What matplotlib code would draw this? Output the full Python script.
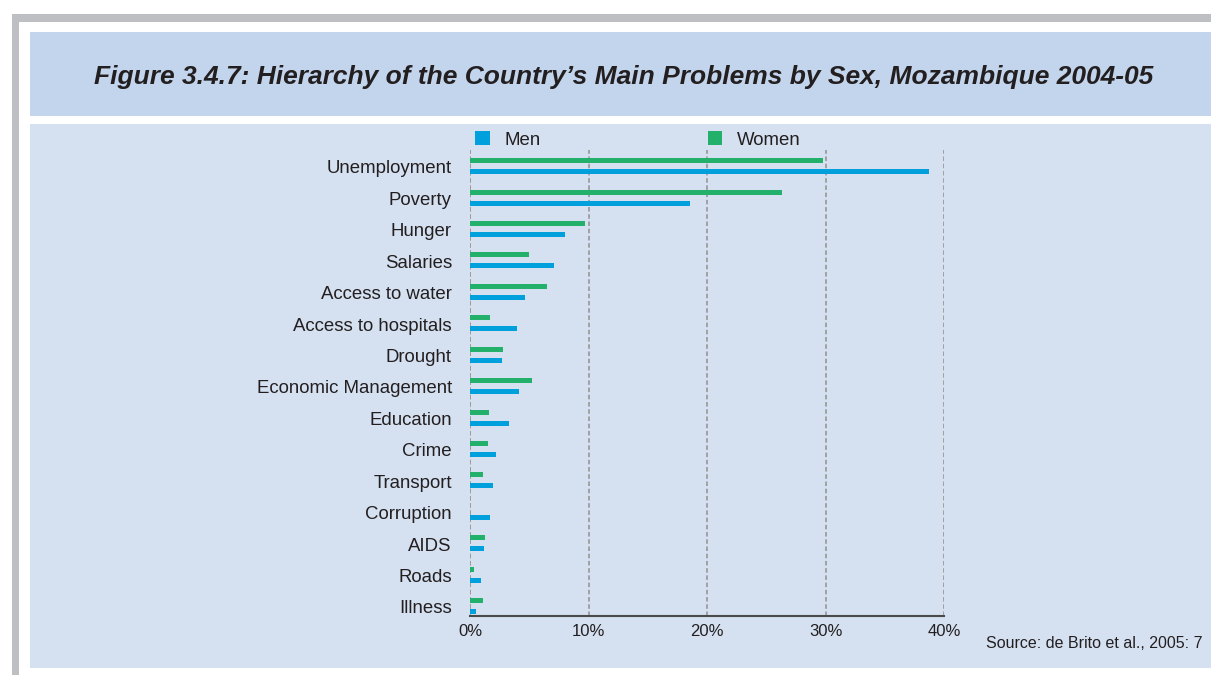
import matplotlib
matplotlib.use("Agg")
import matplotlib.pyplot as plt
from matplotlib.patches import Rectangle, Patch
from matplotlib.ticker import FuncFormatter
import numpy as np

plt.rcParams["font.family"] = ["Liberation Sans", "DejaVu Sans"]

# data (percent of respondents)
problems = ["Unemployment", "Poverty", "Hunger", "Salaries", "Access to water",
            "Access to hospitals", "Drought", "Economic Management", "Education",
            "Crime", "Transport", "Corruption", "AIDS", "Roads", "Illness"]
men = [38.7, 18.6, 8.0, 7.1, 4.6, 4.0, 2.7, 4.1, 3.3, 2.2, 1.9, 1.7, 1.2, 0.9, 0.5]
women = [29.8, 26.3, 9.7, 5.0, 6.5, 1.7, 2.8, 5.2, 1.6, 1.5, 1.1, 0.0, 1.3, 0.35, 1.1]
x_ticks = [0, 10, 20, 30, 40]

MEN_COL = "#00a0dc"
WOMEN_COL = "#22b06a"
W, H = 1211, 675


def px_rect(fig, x0, y0, x1, y1, colour):
    """Background panel given in pixel coords (top-left origin)."""
    fig.add_artist(Rectangle((x0 / W, 1 - y1 / H), (x1 - x0) / W, (y1 - y0) / H,
                             transform=fig.transFigure, facecolor=colour,
                             edgecolor="none", zorder=-10))


fig = plt.figure(figsize=(W / 100, H / 100), dpi=100)
fig.patch.set_facecolor("white")
px_rect(fig, 12, 14, W, 22, "#bdbfc3")
px_rect(fig, 12, 14, 19, H, "#bdbfc3")
px_rect(fig, 30, 32, W, 116, "#c3d5ec")
px_rect(fig, 30, 124, W, 668, "#d5e1f1")

fig.text(624 / W, 1 - 77 / H,
         "Figure 3.4.7: Hierarchy of the Country\u2019s Main Problems by Sex, Mozambique 2004-05",
         ha="center", va="center", fontsize=19, fontweight="bold", fontstyle="italic",
         color="#231f20")

ax = fig.add_axes([470 / W, 1 - 616 / H, (944 - 470) / W, (616 - 150) / H])
ax.set_facecolor("none")

y = np.arange(len(problems))
ax.barh(y - 0.2, women, height=0.16, color=WOMEN_COL, zorder=3)
ax.barh(y + 0.15, men, height=0.16, color=MEN_COL, zorder=3)

ax.set_xlim(0, 40)
ax.set_ylim(14.29, -0.54)
ax.set_xticks(x_ticks)
ax.xaxis.set_major_formatter(FuncFormatter(lambda v, _: f"{v:.0f}%"))
ax.set_yticks(y)
ax.set_yticklabels(problems, fontsize=13.4, color="#231f20")
ax.tick_params(axis="y", length=0, pad=13)
ax.tick_params(axis="x", length=0, pad=6, labelsize=12, colors="#231f20")
ax.grid(axis="x", linestyle=(0, (2.5, 1.5)), color="#9c9c9c", linewidth=1.3, zorder=0)
for s in ["top", "right", "left"]:
    ax.spines[s].set_visible(False)
ax.spines["bottom"].set_color("#4a4a4a")
ax.spines["bottom"].set_linewidth(1.5)
ax.axvline(0, linestyle=(0, (2.5, 1.5)), color="#9c9c9c", linewidth=1.3, zorder=0)

handles = [Patch(facecolor=MEN_COL, label="Men"), Patch(facecolor=WOMEN_COL, label="Women")]
fig.legend(handles=handles, ncol=2, loc="center left",
           bbox_to_anchor=(475 / W, 1 - 140 / H), frameon=False, fontsize=13.4,
           handlelength=0.8, handleheight=0.8, handletextpad=0.8,
           columnspacing=8.95, borderpad=0, borderaxespad=0, labelcolor="#231f20")

fig.text(1203 / W, 1 - 644 / H, "Source: de Brito et al., 2005: 7", ha="right",
         va="center", fontsize=11.5, color="#231f20")

fig.savefig("out.png", dpi=100)
